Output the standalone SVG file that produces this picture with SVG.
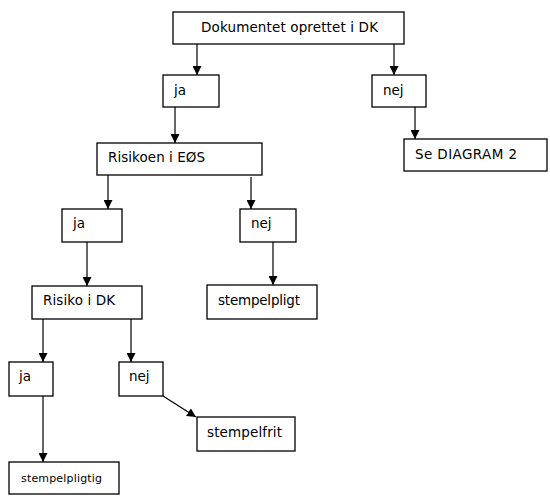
<svg xmlns="http://www.w3.org/2000/svg" width="550" height="496" viewBox="0 0 550 496">
<style>
.box{fill:#fff;stroke:#000;stroke-width:1.3}
.t{font-family:"DejaVu Sans",Verdana,sans-serif;font-size:13.5px;fill:#000}
.s{font-size:11px}
.c{stroke:#000;stroke-width:1.2;fill:none;marker-end:url(#ah)}
</style>
<defs>
<marker id="ah" viewBox="0 0 10 10" refX="10" refY="5" markerWidth="9" markerHeight="9" markerUnits="userSpaceOnUse" orient="auto">
<path d="M0,0 L10,5 L0,10 z" fill="#000"/>
</marker>
</defs>
<rect width="550" height="496" fill="#fff"/>
<g id="connectors">
<line class="c" x1="197" y1="44" x2="197" y2="75"/>
<line class="c" x1="394" y1="44" x2="394" y2="75"/>
<line class="c" x1="415" y1="107" x2="415" y2="139"/>
<line class="c" x1="175" y1="107" x2="175" y2="143"/>
<line class="c" x1="108" y1="175" x2="108" y2="209"/>
<line class="c" x1="251" y1="177" x2="251" y2="209"/>
<line class="c" x1="273" y1="242" x2="273" y2="285"/>
<line class="c" x1="87" y1="242" x2="87" y2="286"/>
<line class="c" x1="43" y1="319" x2="43" y2="362"/>
<line class="c" x1="131" y1="319" x2="131" y2="362"/>
<line class="c" x1="43" y1="396" x2="43" y2="462"/>
<line class="c" x1="163" y1="396" x2="196" y2="417"/>
</g>
<g id="n_top"><rect class="box" x="173" y="12" width="231" height="32"/><text class="t" x="201" y="32" textLength="177" lengthAdjust="spacing">Dokumentet oprettet i DK</text></g>
<g id="n_ja1"><rect class="box" x="163" y="75" width="56" height="32"/><text class="t" x="174" y="95">ja</text></g>
<g id="n_nej1"><rect class="box" x="372" y="75" width="54" height="32"/><text class="t" x="383" y="95">nej</text></g>
<g id="n_diag2"><rect class="box" x="404" y="139" width="143" height="32"/><text class="t" x="415" y="159" textLength="102" lengthAdjust="spacing">Se DIAGRAM 2</text></g>
<g id="n_eos"><rect class="box" x="97" y="143" width="165" height="32"/><text class="t" x="108" y="162" textLength="97" lengthAdjust="spacing">Risikoen i EØS</text></g>
<g id="n_ja2"><rect class="box" x="62" y="209" width="60" height="33"/><text class="t" x="73" y="228">ja</text></g>
<g id="n_nej2"><rect class="box" x="240" y="209" width="56" height="33"/><text class="t" x="251" y="228">nej</text></g>
<g id="n_stempelpligt"><rect class="box" x="207" y="285" width="110" height="34"/><text class="t" x="218" y="305" textLength="82" lengthAdjust="spacing">stempelpligt</text></g>
<g id="n_dk"><rect class="box" x="32" y="286" width="110" height="33"/><text class="t" x="43" y="305" textLength="72" lengthAdjust="spacing">Risiko i DK</text></g>
<g id="n_ja3"><rect class="box" x="9" y="362" width="44" height="34"/><text class="t" x="19" y="381">ja</text></g>
<g id="n_nej3"><rect class="box" x="119" y="362" width="44" height="34"/><text class="t" x="129" y="381">nej</text></g>
<g id="n_stempelpligtig"><rect class="box" x="9" y="462" width="110" height="32"/><text class="t s" x="21" y="482" textLength="81" lengthAdjust="spacing">stempelpligtig</text></g>
<g id="n_stempelfrit"><rect class="box" x="197" y="417" width="98" height="34"/><text class="t" x="207" y="437" textLength="75" lengthAdjust="spacing">stempelfrit</text></g>
</svg>
